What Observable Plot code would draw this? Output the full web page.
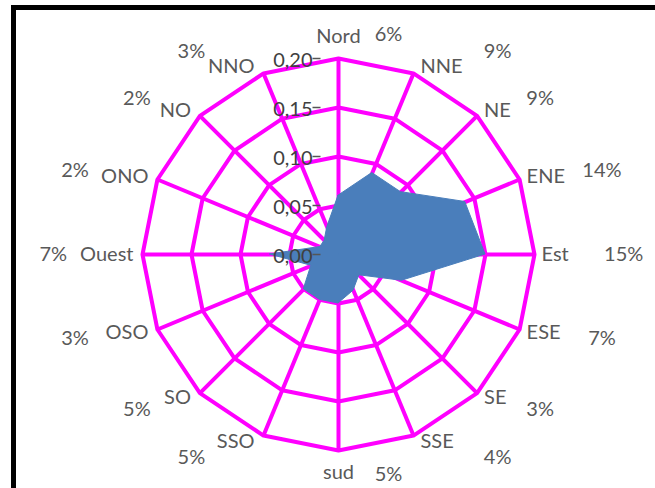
<!DOCTYPE html>
<html>
<head>
<meta charset="utf-8">
<script src="https://cdn.jsdelivr.net/npm/d3@7"></script>
<script src="https://cdn.jsdelivr.net/npm/@observablehq/plot@0.6"></script>
<style>
  html, body { margin: 0; padding: 0; background: #fff; }
  #wrap { position: relative; width: 655px; height: 488px; overflow: hidden; }
  #chart { position: absolute; left: 0; top: 0; }
  #border {
    position: absolute; left: 11px; top: 5px; width: 660px; height: 478px;
    border: 5px solid #000; border-right: none; pointer-events: none;
  }
</style>
</head>
<body>
<div id="wrap"><div id="chart"></div><div id="border"></div></div>
<script>
// Wind directions, clockwise from north
const directions = ["Nord", "NNE", "NE", "ENE", "Est", "ESE", "SE", "SSE",
                    "sud", "SSO", "SO", "OSO", "Ouest", "ONO", "NO", "NNO"];
// Frequency of each direction
const frequencies = [0.06, 0.09, 0.09, 0.14, 0.15, 0.07, 0.03, 0.04,
                     0.05, 0.05, 0.05, 0.03, 0.07, 0.02, 0.02, 0.03];
// Radial axis
const ringValues = [0.05, 0.10, 0.15, 0.20];
const axisTicks = [0, 0.05, 0.10, 0.15, 0.20];
const axisTickLabels = ["0,00", "0,05", "0,10", "0,15", "0,20"];

const rMax = 0.20;
const cx = 338, cy = 254, R = 196;      // centre and outer radius in pixels
const PX = rMax / R;                    // data units per pixel

const n = directions.length;
const pts = directions.map((dir, i) => {
  const a = i * 2 * Math.PI / n;
  return {dir, i, value: frequencies[i], s: Math.sin(a), c: Math.cos(a)};
});

const ringData = ringValues.flatMap(r =>
  [...pts, pts[0]].map(p => ({ring: r, x: r * p.s, y: r * p.c}))
);

const polygon = [...pts, pts[0]];
const pct = d3.format(".0%");

// direction labels just outside the outer ring
const labX = p => rMax * p.s + (p.s > 0.2 ? 7 : p.s < -0.2 ? -9 : 0) * PX;
const labY = p => rMax * p.c + (Math.abs(p.s) < 0.2 ? (p.c > 0 ? 22 : -22) : p.c * 7) * PX;

// percentage annotations further out
const pctX = p => 0.291 * p.s + (Math.abs(p.c) > 0.9 ? (p.s < -0.1 ? -38 : 50) : 0) * PX;
const pctY = p => 0.2245 * p.c;

const textStyle = {fill: "#595959", fontSize: 20};

const chart = Plot.plot({
  width: 655,
  height: 488,
  margin: 0,
  x: {domain: [-rMax, rMax], range: [cx - R, cx + R], axis: null},
  y: {domain: [-rMax, rMax], range: [cy + R, cy - R], axis: null},
  style: {fontFamily: "Lato, 'Open Sans', sans-serif", background: "transparent", overflow: "visible"},
  marks: [
    // spokes
    Plot.link(pts, {
      x1: () => 0, y1: () => 0,
      x2: p => rMax * p.s, y2: p => rMax * p.c,
      stroke: "#ff00ff", strokeWidth: 4
    }),
    // concentric rings
    Plot.line(ringData, {x: "x", y: "y", z: "ring", stroke: "#ff00ff", strokeWidth: 4, strokeLinejoin: "round"}),
    // frequency polygon
    Plot.area(polygon, {
      x1: p => p.value * p.s, y1: p => p.value * p.c,
      x2: () => 0, y2: () => 0,
      fill: "#4a7ebb", stroke: "#4a7ebb", strokeWidth: 1
    }),
    // radial axis ticks and labels
    Plot.link(axisTicks, {
      x1: () => -26 * PX, x2: () => -18 * PX, y1: d => d, y2: d => d,
      stroke: "#555", strokeWidth: 1.5
    }),
    Plot.text(axisTicks, {
      x: () => -26 * PX, y: d => d, text: (d, i) => axisTickLabels[i],
      textAnchor: "end", dy: 2, fill: "#404040", fontSize: 20
    }),
    // direction labels
    Plot.text(pts, {filter: p => p.s > 0.2, x: labX, y: labY, text: "dir", textAnchor: "start", ...textStyle}),
    Plot.text(pts, {filter: p => p.s < -0.2, x: labX, y: labY, text: "dir", textAnchor: "end", ...textStyle}),
    Plot.text(pts, {filter: p => Math.abs(p.s) <= 0.2, x: labX, y: labY, text: "dir", textAnchor: "middle", ...textStyle}),
    // percentages
    Plot.text(pts, {x: pctX, y: pctY, text: p => pct(p.value), textAnchor: "middle", ...textStyle})
  ]
});

document.getElementById("chart").append(chart);
</script>
</body>
</html>
